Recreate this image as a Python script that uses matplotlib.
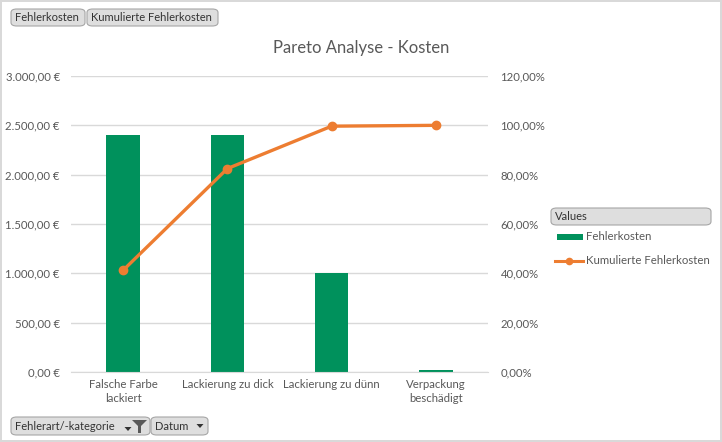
import matplotlib.pyplot as plt
from matplotlib.patches import FancyBboxPatch, Polygon, Rectangle
from matplotlib.lines import Line2D
from matplotlib.ticker import FuncFormatter
import numpy as np

categories = ['Falsche Farbe\nlackiert', 'Lackierung zu dick', 'Lackierung zu dünn', 'Verpackung\nbeschädigt']
kosten = [2400, 2400, 1000, 20]
kumuliert = [0.4124, 0.8247, 0.9966, 1.0]

GREEN = '#00915C'
ORANGE = '#ED7D31'
TXT = '#595959'
GRID = '#D9D9D9'

plt.rcParams['font.family'] = ['Lato', 'DejaVu Sans']

W, H = 722, 442
fig = plt.figure(figsize=(W / 100, H / 100), dpi=100)
fig.patch.set_edgecolor(GRID)
fig.patch.set_linewidth(1.5)


def px(x, y):
    return x / W, 1 - y / H


ax = fig.add_axes([71 / W, 70 / H, (488 - 71) / W, (372 - 76) / H])
x = np.arange(len(categories))
ax.bar(x, kosten, width=0.32, color=GREEN, zorder=2)
ax.set_xlim(-0.5, len(categories) - 0.5)
ax.set_ylim(0, 3000)
ax.set_yticks(np.arange(0, 3001, 500))
ax.yaxis.set_major_formatter(FuncFormatter(
    lambda v, p: f'{v:,.2f} €'.replace(',', 'X').replace('.', ',').replace('X', '.')))
ax.set_xticks(x)
ax.set_xticklabels(categories, linespacing=1.35)
ax.grid(axis='y', color=GRID, linewidth=1, zorder=0)
for s in ['top', 'right', 'left']:
    ax.spines[s].set_visible(False)
ax.spines['bottom'].set_color(GRID)
ax.tick_params(axis='both', length=0, colors=TXT, labelsize=8.2)
ax.tick_params(axis='x', pad=5)
ax.tick_params(axis='y', pad=8)

ax2 = ax.twinx()
ax2.plot(x, kumuliert, color=ORANGE, linewidth=2.4, marker='o', markersize=6, zorder=3)
ax2.set_ylim(0, 1.2)
ax2.set_yticks(np.arange(0, 1.21, 0.2))
ax2.yaxis.set_major_formatter(FuncFormatter(lambda v, p: f'{v * 100:.2f}%'.replace('.', ',')))
for s in ax2.spines.values():
    s.set_visible(False)
ax2.tick_params(axis='y', length=0, colors=TXT, labelsize=8.2, pad=9)

fig.text(0.5, px(0, 48)[1], 'Pareto Analyse - Kosten', ha='center', va='center',
         fontsize=12, color=TXT)


def button(x0, y0, x1, y1, label):
    bx, by = px(x0, y1)
    bw, bh = (x1 - x0) / W, (y1 - y0) / H
    fig.patches.append(FancyBboxPatch((bx, by), bw, bh, transform=fig.transFigure,
                                      boxstyle='round,pad=0,rounding_size=0.008',
                                      facecolor='#DEDEDE', edgecolor='#A6A6A6', linewidth=0.8))
    fig.text(px(x0 + 4, 0)[0], px(0, (y0 + y1) / 2)[1], label, ha='left', va='center',
             fontsize=8, color='#333333')


def arrow(cx, cy):
    pts = [px(cx - 3.5, cy - 2), px(cx + 3.5, cy - 2), px(cx, cy + 2)]
    fig.patches.append(Polygon(pts, closed=True, transform=fig.transFigure,
                               facecolor='#333333', edgecolor='none'))


button(11, 9, 85, 26, 'Fehlerkosten')
button(87, 9, 218, 26, 'Kumulierte Fehlerkosten')
button(11, 417, 150, 435, 'Fehlerart/-kategorie')
button(151, 417, 208, 435, 'Datum')
arrow(200, 426)
arrow(128, 429)
funnel = [px(132, 420), px(147, 420), px(141, 426), px(141, 433), px(138, 433), px(138, 426)]
fig.patches.append(Polygon(funnel, closed=True, transform=fig.transFigure,
                           facecolor='#595959', edgecolor='none'))

# legend
button(551, 208, 711, 225, 'Values')
gx, gy = px(557, 240)
fig.patches.append(Rectangle((gx, gy), 26 / W, 6 / H, transform=fig.transFigure,
                             facecolor=GREEN, edgecolor='none'))
fig.text(px(586, 0)[0], px(0, 237)[1], 'Fehlerkosten', ha='left', va='center',
         fontsize=8.2, color=TXT)
lx0, ly = px(555, 261)
lx1, _ = px(583, 261)
fig.lines.append(Line2D([lx0, lx1], [ly, ly], transform=fig.transFigure, color=ORANGE,
                        linewidth=2.2))
fig.lines.append(Line2D([(lx0 + lx1) / 2], [ly], transform=fig.transFigure, color=ORANGE,
                        marker='o', markersize=4.5))
fig.text(px(586, 0)[0], ly, 'Kumulierte Fehlerkosten', ha='left', va='center',
         fontsize=8.2, color=TXT)

fig.savefig('out.png', dpi=100, edgecolor=fig.get_edgecolor())
